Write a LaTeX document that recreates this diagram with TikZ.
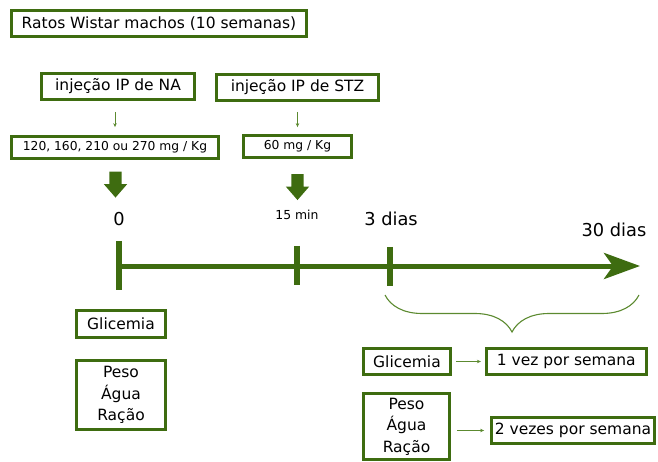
\documentclass[tikz,border=0pt]{standalone}
\usepackage{fontspec}
\setmainfont{DejaVu Sans}
\usepackage{xcolor}
\usepackage{tikz}
\usetikzlibrary{positioning, arrows.meta, shapes.arrows, shadows, decorations.pathreplacing}

\definecolor{boxgreen}{HTML}{3E6C10}
\definecolor{linegreen}{HTML}{5C8A30}

\begin{document}
\begin{tikzpicture}[
      x = 1pt, y = -1pt,
      box/.style      = {draw=boxgreen, line width=2.8pt, fill=white, inner sep=0pt, align=center,
                         font=\fontsize{15.5}{21.5}\selectfont,
                         drop shadow={shadow xshift=1.5pt, shadow yshift=-1.5pt, opacity=0.3}},
      dosebox/.style  = {box, font=\fontsize{12.3}{14}\selectfont},
      lbl/.style      = {inner sep=0pt, font=\fontsize{17.8}{20}\selectfont},
      pushdown/.style = {single arrow, fill=boxgreen, draw=none, shape border rotate=270,
                         minimum height=26pt, inner sep=6pt, single arrow head extend=5.5pt,
                         single arrow tip angle=82},
      timeline/.style = {draw=boxgreen, line width=5pt},
      tickmark/.style = {draw=boxgreen, line width=5.5pt},
      thinarrow/.style= {draw=linegreen, line width=0.9pt, -{Stealth[length=4pt, width=3.5pt]}},
      >={Stealth[]}
  ]
  \useasboundingbox (0,0) rectangle (658,462);

  % --- Animals and injections ---
  \node[box, minimum width=295pt, minimum height=26pt] (rats) at (159,23.5)
        {Ratos Wistar machos (10 semanas)};
  \node[box, minimum width=153pt, minimum height=26pt] (injNA)  at (118,86.5)  {injeção IP de NA};
  \node[box, minimum width=162pt, minimum height=26pt] (injSTZ) at (297.5,87.5) {injeção IP de STZ};

  % --- Doses ---
  \node[dosebox, minimum width=207pt, minimum height=22pt] (doseNA)  at (115,147.5)
        {120, 160, 210 ou 270 mg / Kg};
  \node[dosebox, minimum width=108pt, minimum height=22pt] (doseSTZ) at (297.5,146.5)
        {60 mg / Kg};

  \draw[thinarrow, shorten <=11pt, shorten >=8pt] (injNA.south -| doseNA.north) -- (doseNA.north);
  \draw[thinarrow, shorten <=10pt, shorten >=7pt] (injSTZ.south -| doseSTZ.north) -- (doseSTZ.north);

  \node[pushdown] (pushNA)  at (115.5,181)   {};
  \node[pushdown] (pushSTZ) at (297.5,183.5) {};

  % --- Time axis ---
  \coordinate (t0)   at (119,266);
  \coordinate (t15)  at (297,266);
  \coordinate (t3)   at (390,266);
  \coordinate (tEnd) at (640,266);

  \node[lbl] (l0)  at (119,219) {0};
  \node[lbl, font=\fontsize{12.4}{14}\selectfont] (l15) at (297,215) {15 min};
  \node[lbl] (l3)  at (391,219) {3 dias};
  \node[lbl] (l30) at (614,230) {30 dias};

  \draw[timeline, -{Stealth[length=36pt, width=26pt, inset=9pt]}] (t0) -- (tEnd);
  \draw[tickmark] ([yshift=25pt]t0)  -- ([yshift=-24pt]t0);
  \draw[tickmark] ([yshift=20pt]t15) -- ([yshift=-19pt]t15);
  \draw[tickmark] ([yshift=19pt]t3)  -- ([yshift=-20pt]t3);

  % --- Brace over the 30 days ---
  \coordinate (braceL) at (385,295);
  \coordinate (braceR) at (639,295);
  \draw[draw=linegreen, line width=1.1pt, decorate,
        decoration={brace, mirror, amplitude=37pt}] (braceL) -- (braceR);

  % --- Measures at day 0 ---
  \node[box, minimum width=89pt, minimum height=27pt] (gli0)  at (121,324) {Glicemia};
  \node[box, minimum width=89pt, minimum height=69pt] (peso0) at (121,395) {Peso\\Água\\Ração};

  % --- Measures from day 3 ---
  \node[box, minimum width=87pt, minimum height=26pt]  (gli3)   at (407,361.5) {Glicemia};
  \node[box, minimum width=160pt, minimum height=26pt, right=33pt of gli3] (weekly) {1 vez por semana};
  \node[box, minimum width=86pt, minimum height=66pt]  (peso3)  at (406.5,426.5) {Peso\\Água\\Ração};
  \node[box, minimum width=163pt, minimum height=26pt] (twice)  at (573,430.5) {2 vezes por semana};

  \draw[thinarrow, shorten <=4pt, shorten >=4pt] (gli3.east) -- (weekly.west);
  \draw[thinarrow, shorten <=6pt, shorten >=6pt] (peso3.east |- twice.west) -- (twice.west);

  \end{tikzpicture}
\end{document}
